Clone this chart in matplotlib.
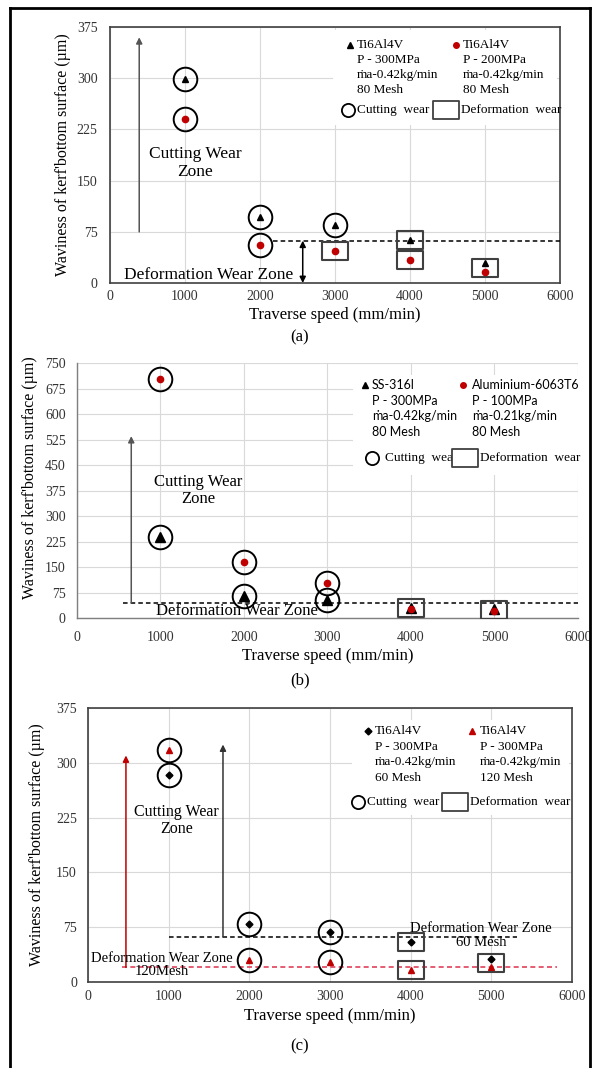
import matplotlib

matplotlib.use("Agg")

import matplotlib.pyplot as plt
import numpy as np
from matplotlib.lines import Line2D
from matplotlib.patches import Rectangle
from matplotlib.path import Path

plt.rcParams["font.family"] = ["Liberation Serif", "DejaVu Serif"]

speeds = [1000, 2000, 3000, 4000, 5000]

# (a) Ti6Al4V, 300 MPa vs 200 MPa
a_tri = [299, 97, 85, 63, 29]
a_dot = [240, 56, 47, 34, 16]
a_tri_wear = ["c", "c", "c", "d", "d"]
a_dot_wear = ["c", "c", "d", "d", "d"]
a_shared_box = [5000]
a_zone = 62

# (b) SS-316l vs Aluminium-6063T6
b_tri = [238, 65, 54, 31, 26]
b_dot = [702, 164, 104, 27, 21]
b_tri_wear = ["c", "c", "c", "d", "d"]
b_dot_wear = ["c", "c", "c", "d", "d"]
b_shared_box = [4000, 5000]
b_zone = 45

# (c) Ti6Al4V, 60 mesh vs 120 mesh
c_dia = [283, 79, 68, 55, 31]
c_tri = [317, 30, 27, 17, 20]
c_dia_wear = ["c", "c", "c", "d", "d"]
c_tri_wear = ["c", "c", "c", "d", "d"]
c_shared_box = [5000]
c_zone_60 = 62
c_zone_120 = 20

RED = "#c00000"
GRID = "#d9d9d9"
FRAME = "#404040"

box_marker = Path(
    [(-0.75, -0.5), (0.75, -0.5), (0.75, 0.5), (-0.75, 0.5), (-0.75, -0.5)],
    [Path.MOVETO, Path.LINETO, Path.LINETO, Path.LINETO, Path.CLOSEPOLY],
)


def setup_axes(ax, ymax, framed, ypad, xpad):
    ax.set_xlim(0, 6000)
    ax.set_ylim(0, ymax)
    ax.set_xticks(range(0, 7000, 1000))
    ax.set_yticks(np.arange(0, ymax + 1, 75))
    ax.grid(True, color=GRID, linewidth=0.8)
    ax.set_axisbelow(True)
    ax.tick_params(axis="both", length=0, labelsize=10, colors="#333333")
    ax.tick_params(axis="y", pad=ypad)
    ax.tick_params(axis="x", pad=xpad)
    for side, spine in ax.spines.items():
        if framed:
            spine.set_color(FRAME)
            spine.set_linewidth(1.2)
        elif side in ("left", "bottom"):
            spine.set_color("#7f7f7f")
            spine.set_linewidth(1.0)
        else:
            spine.set_visible(False)
    ax.set_xlabel("Traverse speed (mm/min)", fontsize=12, labelpad=3)
    ax.set_ylabel("Waviness of kerf'bottom surface (\u00b5m)", fontsize=11.5)


def draw_series(ax, ys, wear, shared, marker, color, size):
    ax.plot(speeds, ys, linestyle="none", marker=marker, color=color,
            markersize=size, zorder=4)
    for x, y, w in zip(speeds, ys, wear):
        if w == "c":
            ax.plot(x, y, marker="o", markersize=17, markerfacecolor="none",
                    markeredgecolor="black", markeredgewidth=1.4, zorder=5,
                    clip_on=False)
        elif x not in shared:
            ax.plot(x, y, marker=box_marker, markersize=18.5,
                    markerfacecolor="none", markeredgecolor=FRAME,
                    markeredgewidth=1.5, zorder=5)


def shared_boxes(ax, ys1, ys2, shared):
    for x in shared:
        i = speeds.index(x)
        ax.plot(x, (ys1[i] + ys2[i]) / 2, marker=box_marker, markersize=18.5,
                markerfacecolor="none", markeredgecolor=FRAME,
                markeredgewidth=1.5, zorder=5)


def arrow(ax, x, y0, y1, color, both=False):
    ax.annotate("", xy=(x, y1), xytext=(x, y0),
                arrowprops=dict(arrowstyle="<|-|>" if both else "-|>",
                                color=color, lw=1.1, shrinkA=0, shrinkB=0,
                                mutation_scale=9))


def legend_block(ax, xm, xt, y, dy, marker, color, ms, lines, family, size):
    ax.plot([xm], [y], transform=ax.transAxes, marker=marker, color=color,
            markersize=ms, linestyle="none", clip_on=False, zorder=6)
    for i, line in enumerate(lines):
        ax.text(xt, y - i * dy, line, transform=ax.transAxes, ha="left",
                va="center", fontsize=size, family=family, zorder=6)


def wear_key(ax, xc, xct, xb, xbt, y):
    ax.plot([xc], [y], transform=ax.transAxes, marker="o", markersize=9.5,
            markerfacecolor="white", markeredgecolor="black",
            markeredgewidth=1.3, clip_on=False, zorder=6)
    ax.text(xct, y, "Cutting  wear", transform=ax.transAxes, ha="left",
            va="center", fontsize=9.5, zorder=6)
    ax.plot([xb], [y], transform=ax.transAxes, marker=box_marker,
            markersize=18.5, markerfacecolor="white", markeredgecolor=FRAME,
            markeredgewidth=1.3, clip_on=False, zorder=6)
    ax.text(xbt, y, "Deformation  wear", transform=ax.transAxes, ha="left",
            va="center", fontsize=9.5, zorder=6)


def legend_bg(ax, x0, y0, x1, y1):
    ax.add_patch(Rectangle((x0, y0), x1 - x0, y1 - y0, transform=ax.transAxes,
                           facecolor="white", edgecolor="none", zorder=1))


fig = plt.figure(figsize=(6, 10.68), dpi=100)
ax_a = fig.add_axes([0.1833, 0.735, 0.75, 0.2397])
ax_b = fig.add_axes([0.1283, 0.4213, 0.835, 0.2388])
ax_c = fig.add_axes([0.1467, 0.0805, 0.8067, 0.2566])

# ---- (a)
setup_axes(ax_a, 375, True, 9, 5)
ax_a.yaxis.set_label_coords(-0.087, 0.5)
ax_a.plot([2170, 6000], [a_zone, a_zone], color="black", lw=1.1,
          dashes=(3, 2), zorder=3)
draw_series(ax_a, a_tri, a_tri_wear, a_shared_box, "^", "black", 4.5)
draw_series(ax_a, a_dot, a_dot_wear, a_shared_box, "o", RED, 4.5)
shared_boxes(ax_a, a_tri, a_dot, a_shared_box)
arrow(ax_a, 390, 75, 360, "#555555")
arrow(ax_a, 2570, 0, a_zone, "black", both=True)
ax_a.text(1133, 176, "Cutting Wear\nZone", ha="center", va="center",
          fontsize=12.5, linespacing=1.15, zorder=6)
ax_a.text(1320, 12, "Deformation Wear Zone", ha="center", va="center",
          fontsize=12.5, zorder=6)
legend_bg(ax_a, 0.496, 0.617, 0.993, 0.988)
dy = 0.0586
legend_block(ax_a, 0.533, 0.549, 0.930, dy, "^", "black", 4,
             ["Ti6Al4V", "P - 300MPa", "\u1e41a-0.42kg/min", "80 Mesh"],
             ["Liberation Serif", "DejaVu Serif"], 9.5)
legend_block(ax_a, 0.769, 0.784, 0.930, dy, "o", RED, 4,
             ["Ti6Al4V", "P - 200MPa", "\u1e41a-0.42kg/min", "80 Mesh"],
             ["Liberation Serif", "DejaVu Serif"], 9.5)
wear_key(ax_a, 0.529, 0.549, 0.747, 0.780, 0.676)

# ---- (b)
setup_axes(ax_b, 750, False, 8, 9)
ax_b.yaxis.set_label_coords(-0.078, 0.55)
ax_b.plot([550, 6000], [b_zone, b_zone], color="black", lw=1.1,
          dashes=(3, 2), zorder=3)
draw_series(ax_b, b_tri, b_tri_wear, b_shared_box, "^", "black", 7)
draw_series(ax_b, b_dot, b_dot_wear, b_shared_box, "o", RED, 4.5)
shared_boxes(ax_b, b_tri, b_dot, b_shared_box)
arrow(ax_b, 650, b_zone, 535, "#555555")
ax_b.text(1450, 375, "Cutting Wear\nZone", ha="center", va="center",
          fontsize=12, linespacing=1.15, zorder=6)
ax_b.text(1915, 20, "Deformation Wear Zone", ha="center", va="center",
          fontsize=12, zorder=6)
legend_bg(ax_b, 0.551, 0.561, 1.0, 0.953)
dy = 0.061
legend_block(ax_b, 0.575, 0.589, 0.914, dy, "^", "black", 4,
             ["SS-316l", "P - 300MPa", "\u1e41a-0.42kg/min", "80 Mesh"],
             ["Lato", "DejaVu Sans"], 9)
legend_block(ax_b, 0.770, 0.788, 0.914, dy, "o", RED, 4,
             ["Aluminium-6063T6", "P - 100MPa", "\u1e41a-0.21kg/min", "80 Mesh"],
             ["Lato", "DejaVu Sans"], 9)
wear_key(ax_b, 0.589, 0.615, 0.774, 0.804, 0.627)

# ---- (c)
setup_axes(ax_c, 375, True, 8, 6)
ax_c.yaxis.set_label_coords(-0.089, 0.5)
ax_c.plot([1000, 5316], [c_zone_60, c_zone_60], color="black", lw=1.1,
          dashes=(3, 2), zorder=3)
ax_c.plot([420, 5810], [c_zone_120, c_zone_120], color="#e0405a", lw=1.2,
          dashes=(3, 2), zorder=3)
draw_series(ax_c, c_dia, c_dia_wear, c_shared_box, "D", "black", 3.5)
draw_series(ax_c, c_tri, c_tri_wear, c_shared_box, "^", RED, 4.5)
shared_boxes(ax_c, c_dia, c_tri, c_shared_box)
arrow(ax_c, 1673, c_zone_60, 325, "#333333")
arrow(ax_c, 470, c_zone_120, 310, RED)
ax_c.text(1100, 221, "Cutting Wear\nZone", ha="center", va="center",
          fontsize=11.5, linespacing=1.15, zorder=6)
ax_c.text(4870, 64, "Deformation Wear Zone\n60 Mesh", ha="center",
          va="center", fontsize=10.5, linespacing=1.05, zorder=6)
ax_c.text(920, 23, "Deformation Wear Zone\n120Mesh", ha="center",
          va="center", fontsize=10.5, linespacing=1.05, zorder=6)
legend_bg(ax_c, 0.545, 0.609, 0.994, 0.956)
dy = 0.0566
legend_block(ax_c, 0.579, 0.593, 0.916, dy, "D", "black", 3.5,
             ["Ti6Al4V", "P - 300MPa", "\u1e41a-0.42kg/min", "60 Mesh"],
             ["Liberation Serif", "DejaVu Serif"], 9.5)
legend_block(ax_c, 0.793, 0.810, 0.916, dy, "^", RED, 4.5,
             ["Ti6Al4V", "P - 300MPa", "\u1e41a-0.42kg/min", "120 Mesh"],
             ["Liberation Serif", "DejaVu Serif"], 9.5)
wear_key(ax_c, 0.558, 0.576, 0.758, 0.789, 0.657)

# captions
fig.text(0.5, 1 - 337 / 1068, "(a)", ha="center", va="center", fontsize=12)
fig.text(0.5, 1 - 680 / 1068, "(b)", ha="center", va="center", fontsize=12)
fig.text(0.5, 1 - 1046 / 1068, "(c)", ha="center", va="center", fontsize=12)

# outer frame
for xs, ys in [([10 / 600, 10 / 600], [0, 1 - 8 / 1068]),
               ([10 / 600, 590 / 600], [1 - 8 / 1068, 1 - 8 / 1068]),
               ([590 / 600, 590 / 600], [0, 1 - 8 / 1068])]:
    fig.add_artist(Line2D(xs, ys, color="black", lw=2))

fig.savefig("out.png", dpi=100)
